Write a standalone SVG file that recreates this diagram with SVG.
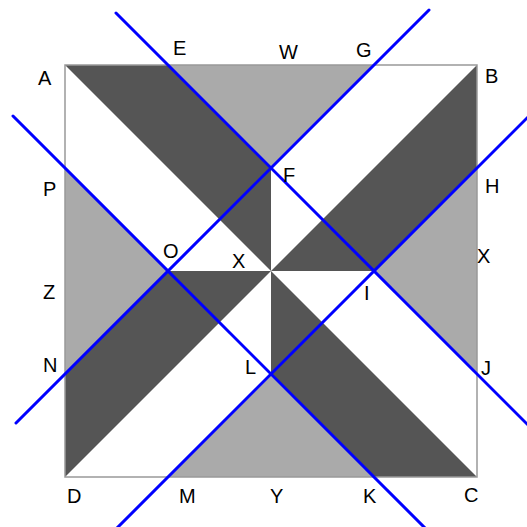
<svg xmlns="http://www.w3.org/2000/svg" width="527" height="527" viewBox="0 0 527 527">
<style>
.dark{fill:#555555;stroke:none}
.light{fill:#aaaaaa;stroke:none}
.frame{fill:none;stroke:#999999;stroke-width:1.5}
.blue{stroke:#0000ff;stroke-width:3;fill:none;stroke-linecap:round}
.lbl{font-family:"Liberation Sans",Arial,sans-serif;font-size:20px;fill:#000}
</style>
<rect width="527" height="527" fill="#ffffff"/>
<g id="regions">
<polygon class="dark" points="65,65 168,65 271,168 271,271"/>
<polygon class="dark" points="477,65 477,168 374,271 271,271"/>
<polygon class="dark" points="477,477 374,477 271,374 271,271"/>
<polygon class="dark" points="65,477 65,374 168,271 271,271"/>
<polygon class="light" points="168,65 374,65 271,168"/>
<polygon class="light" points="477,168 477,374 374,271"/>
<polygon class="light" points="374,477 168,477 271,374"/>
<polygon class="light" points="65,374 65,168 168,271"/>
<rect class="frame" x="65" y="65" width="412" height="412"/>
</g>
<g id="connectors">
<line class="blue" x1="116" y1="13" x2="530" y2="427"/>
<line class="blue" x1="13" y1="116" x2="427" y2="530"/>
<line class="blue" x1="429" y1="10" x2="16" y2="423"/>
<line class="blue" x1="530" y1="115" x2="115" y2="530"/>
</g>
<g id="labels" class="lbl">
<text x="38" y="85">A</text>
<text x="173" y="55">E</text>
<text x="279" y="59">W</text>
<text x="356" y="57">G</text>
<text x="485" y="83">B</text>
<text x="43" y="196">P</text>
<text x="283" y="182">F</text>
<text x="485" y="193">H</text>
<text x="163" y="258">O</text>
<text x="232" y="268">X</text>
<text x="477" y="263">X</text>
<text x="43" y="299">Z</text>
<text x="364" y="300">I</text>
<text x="43" y="372">N</text>
<text x="245" y="374">L</text>
<text x="481" y="375">J</text>
<text x="67" y="503">D</text>
<text x="179" y="503">M</text>
<text x="270" y="503">Y</text>
<text x="363" y="503">K</text>
<text x="464" y="502">C</text>
</g>
</svg>
